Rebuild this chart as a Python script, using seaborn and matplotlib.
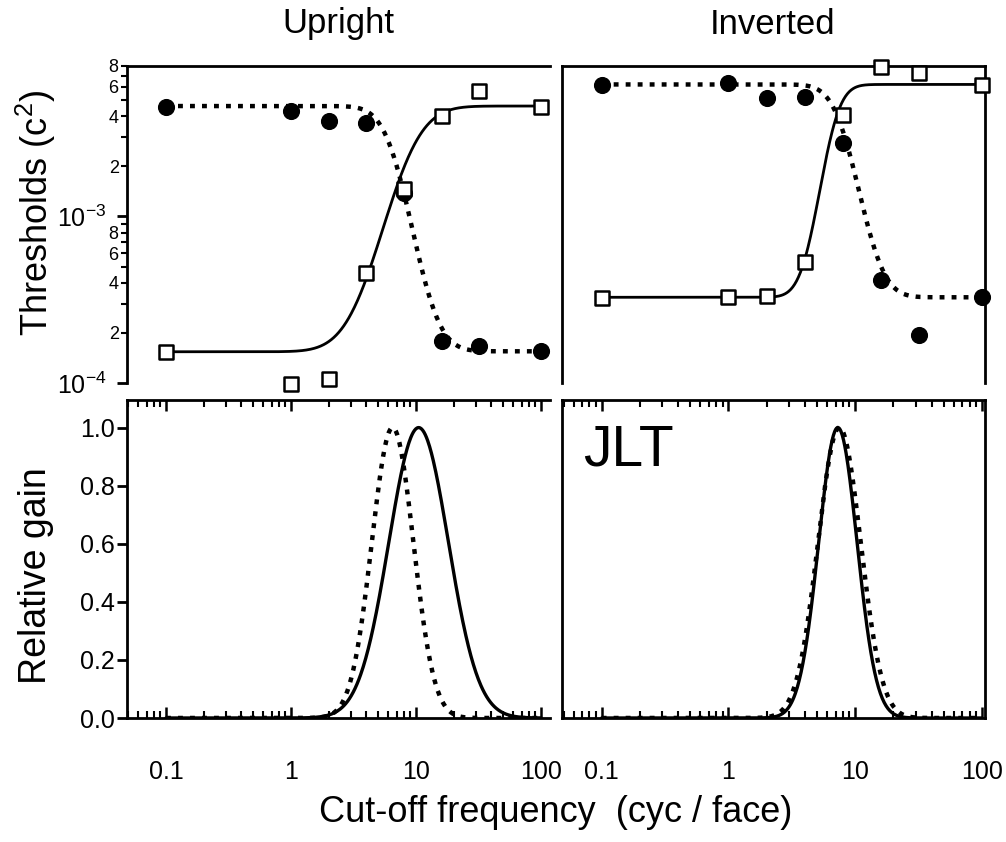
import numpy as np
import pandas as pd
import matplotlib
matplotlib.use("Agg")
import matplotlib.pyplot as plt
import seaborn as sns
from matplotlib.ticker import FixedLocator, NullFormatter, FixedFormatter
from math import erf

sns.set_style("ticks")
plt.rcParams['font.family'] = ['Liberation Sans', 'DejaVu Sans']
plt.rcParams['mathtext.fontset'] = 'custom'
plt.rcParams['mathtext.rm'] = 'Liberation Sans'
for k in ('text.color', 'axes.edgecolor', 'xtick.color', 'ytick.color', 'axes.labelcolor'):
    plt.rcParams[k] = 'black'

# ---------------- data ----------------
freq = [0.1, 1, 2, 4, 8, 16, 32, 100]

up_circles = [4.52e-3, 4.29e-3, 3.74e-3, 3.65e-3, 1.38e-3, 1.79e-4, 1.67e-4, 1.56e-4]
up_squares = [1.54e-4, 0.98e-4, 1.06e-4, 4.55e-4, 1.47e-3, 4.02e-3, 5.69e-3, 4.55e-3]
inv_circles = [6.15e-3, 6.3e-3, 5.16e-3, 5.23e-3, 2.75e-3, 4.15e-4, 1.94e-4, 3.27e-4]
inv_squares = [3.22e-4, 3.27e-4, 3.33e-4, 5.35e-4, 4.06e-3, 7.92e-3, 7.28e-3, 6.15e-3]

# fitted sigmoid parameters (log10 freq centre, log10 spread, low plateau, high plateau)
up_sq_fit = dict(mu=0.735, s=0.25, lo=1.54e-4, hi=4.6e-3)
up_ci_fit = dict(mu=0.97, s=0.18, lo=1.55e-4, hi=4.6e-3)
inv_sq_fit = dict(mu=0.72, s=0.128, lo=3.27e-4, hi=6.2e-3)
inv_ci_fit = dict(mu=1.03, s=0.164, lo=3.27e-4, hi=6.2e-3)

# relative gain (log-gaussian): peak frequency, log10 sigma
up_gain_solid = dict(peak=10.5, sigma=0.238)
up_gain_dotted = dict(peak=6.5, sigma=0.166)
inv_gain_solid = dict(peak=7.3, sigma=0.151)
inv_gain_dotted = dict(peak=7.5, sigma=0.168)

titles = ["Upright", "Inverted"]
W, H = 1006, 842

fgrid = np.logspace(-1, 2, 600)


def Phi(z):
    return 0.5 * (1 + np.vectorize(erf)(z / np.sqrt(2)))


def sigmoid(p, rising):
    z = (np.log10(fgrid) - p['mu']) / p['s']
    frac = Phi(z) if rising else 1 - Phi(z)
    return 10 ** (np.log10(p['lo']) + (np.log10(p['hi']) - np.log10(p['lo'])) * frac)


def gain(p):
    return np.exp(-(np.log10(fgrid) - np.log10(p['peak'])) ** 2 / (2 * p['sigma'] ** 2))


fig = plt.figure(figsize=(W / 100, H / 100), dpi=100)


def ax_px(l, t, r, b):
    return fig.add_axes([l / W, 1 - b / H, (r - l) / W, (b - t) / H])


axTL = ax_px(127, 66, 550, 383)
axTR = ax_px(562, 66, 985, 383)
axBL = ax_px(127, 400, 550, 718)
axBR = ax_px(562, 400, 985, 718)

xl_left = (10 ** -1.312, 10 ** 2.072)
xl_right = (10 ** -1.313, 10 ** 2.024)

DOT = (0, (1.1, 1.6))
LW_SOLID = 2.0
LW_DOT = 3.2

for ax, circ, sq, fsq, fci, xl in [
        (axTL, up_circles, up_squares, up_sq_fit, up_ci_fit, xl_left),
        (axTR, inv_circles, inv_squares, inv_sq_fit, inv_ci_fit, xl_right)]:
    df_fit = pd.DataFrame({'f': fgrid, 'sq': sigmoid(fsq, True), 'ci': sigmoid(fci, False)})
    sns.lineplot(data=df_fit, x='f', y='sq', ax=ax, color='black', lw=LW_SOLID)
    sns.lineplot(data=df_fit, x='f', y='ci', ax=ax, color='black', lw=LW_DOT,
                 linestyle=DOT, dash_capstyle='butt')
    dpts = pd.DataFrame({'f': freq, 'c': circ, 's': sq})
    sns.scatterplot(data=dpts, x='f', y='c', ax=ax, color='black', marker='o', s=130,
                    edgecolor='black', clip_on=False, zorder=5)
    sns.scatterplot(data=dpts, x='f', y='s', ax=ax, marker='s', s=90, facecolor='white',
                    edgecolor='black', linewidth=1.8, clip_on=False, zorder=6)
    ax.set_xscale('log')
    ax.set_yscale('log')
    ax.set_xlim(*xl)
    ax.set_ylim(1e-4, 8e-3)
    ax.set_xlabel('')
    ax.set_ylabel('')
    ax.spines['bottom'].set_visible(False)
    ax.tick_params(axis='x', which='both', bottom=False, top=False, labelbottom=False)
    for sp in ax.spines.values():
        sp.set_linewidth(2.0)

axTL.spines['right'].set_visible(False)
fig.text(338 / W, 1 - 24 / H, titles[0], fontsize=25, ha='center', va='center')
fig.text(773 / W, 1 - 24 / H, titles[1], fontsize=25, ha='center', va='center')

# y ticks of thresholds
major_y = [1e-4, 1e-3]
minor_y = [m * 10.0 ** e for e in (-4, -3) for m in range(2, 10) if m * 10.0 ** e <= 8e-3]
minor_lbl = [str(int(round(v / 10 ** np.floor(np.log10(v))))) if
             int(round(v / 10 ** np.floor(np.log10(v)))) in (2, 4, 6, 8) else '' for v in minor_y]
axTL.yaxis.set_major_locator(FixedLocator(major_y))
axTL.yaxis.set_major_formatter(FixedFormatter([r'$10^{-4}$', r'$10^{-3}$']))
axTL.yaxis.set_minor_locator(FixedLocator(minor_y))
axTL.yaxis.set_minor_formatter(FixedFormatter(minor_lbl))
axTL.tick_params(axis='y', which='major', labelsize=18, length=7, width=2, direction='out', pad=8)
axTL.tick_params(axis='y', which='minor', labelsize=13, length=4, width=1.5, direction='out', pad=2)
axTR.yaxis.set_major_locator(FixedLocator(major_y))
axTR.yaxis.set_minor_locator(FixedLocator(minor_y))
axTR.tick_params(axis='y', which='both', left=False, labelleft=False)

# bottom panels
for ax, ps, pd_, xl in [(axBL, up_gain_solid, up_gain_dotted, xl_left),
                        (axBR, inv_gain_solid, inv_gain_dotted, xl_right)]:
    dfg = pd.DataFrame({'f': fgrid, 'solid': gain(ps), 'dotted': gain(pd_)})
    sns.lineplot(data=dfg, x='f', y='solid', ax=ax, color='black', lw=2.4)
    sns.lineplot(data=dfg, x='f', y='dotted', ax=ax, color='black', lw=LW_DOT,
                 linestyle=DOT, dash_capstyle='butt')
    ax.set_xscale('log')
    ax.set_xlim(*xl)
    ax.set_ylim(0, 1.095)
    ax.set_xlabel('')
    ax.set_ylabel('')
    ax.xaxis.set_major_locator(FixedLocator([0.1, 1, 10, 100]))
    ax.xaxis.set_major_formatter(FixedFormatter(['0.1', '1', '10', '100']))
    ax.xaxis.set_minor_locator(FixedLocator([m * 10.0 ** e for e in (-2, -1, 0, 1, 2)
                                             for m in range(2, 10)]))
    ax.xaxis.set_minor_formatter(NullFormatter())
    ax.tick_params(axis='x', which='major', top=True, bottom=True, direction='in',
                   length=8, width=1.8, labelsize=18, pad=30)
    ax.tick_params(axis='x', which='minor', top=True, bottom=True, direction='in',
                   length=5, width=1.5)
    for sp in ax.spines.values():
        sp.set_linewidth(2.0)

axBL.yaxis.set_major_locator(FixedLocator([0, 0.2, 0.4, 0.6, 0.8, 1.0]))
axBL.yaxis.set_major_formatter(FixedFormatter(['0.0', '0.2', '0.4', '0.6', '0.8', '1.0']))
axBL.tick_params(axis='y', which='major', labelsize=18, length=7, width=2, direction='out', pad=2)
axBL.spines['right'].set_visible(False)
axBR.tick_params(axis='y', which='both', left=False, labelleft=False)
axBR.text(0.05, 0.84, 'JLT', transform=axBR.transAxes, fontsize=41, ha='left', va='center')

fig.text(36 / W, 1 - 213 / H, 'Thresholds (c$^2$)', rotation=90, fontsize=26,
         ha='center', va='center')
fig.text(36 / W, 1 - 576 / H, 'Relative gain', rotation=90, fontsize=27,
         ha='center', va='center')
fig.text(556 / W, 1 - 812 / H, 'Cut-off frequency  (cyc / face)', fontsize=26,
         ha='center', va='center')

fig.savefig('out.png', dpi=100, facecolor='white')
